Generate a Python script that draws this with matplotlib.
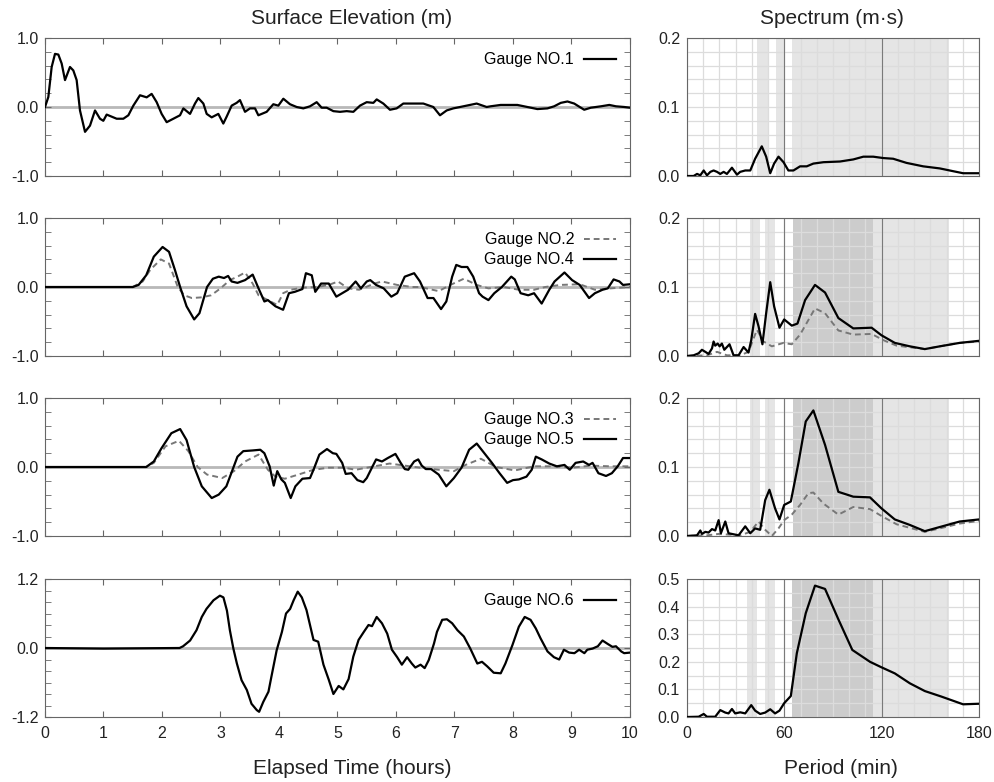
import numpy as np
import matplotlib
matplotlib.use('Agg')
import matplotlib.pyplot as plt
from matplotlib.ticker import MultipleLocator, FormatStrFormatter

plt.rcParams['font.family'] = ['Liberation Sans', 'DejaVu Sans']
plt.rcParams['axes.unicode_minus'] = False
plt.rcParams['lines.solid_joinstyle'] = 'round'
plt.rcParams['lines.dash_joinstyle'] = 'round'

#SURFACE ELEVATION (t in hours, eta in m)
g1_t = [0, 0.057, 0.114, 0.171, 0.228, 0.285, 0.342, 0.427, 0.484, 0.541, 0.598, 0.684, 0.769, 0.855,
        0.94, 0.997, 1.054, 1.14, 1.225, 1.339, 1.425, 1.51, 1.624, 1.738, 1.823, 1.909, 1.994, 2.08,
        2.194, 2.308, 2.365, 2.479, 2.564, 2.621, 2.707, 2.764, 2.849, 2.963, 3.048, 3.105, 3.191, 3.276,
        3.333, 3.419, 3.504, 3.59, 3.647, 3.789, 3.903, 3.989, 4.074, 4.188, 4.302, 4.416, 4.53, 4.644,
        4.729, 4.815, 4.929, 5.043, 5.157, 5.271, 5.385, 5.499, 5.613, 5.67, 5.783, 5.897, 6.011, 6.125,
        6.296, 6.467, 6.638, 6.752, 6.866, 6.98, 7.208, 7.379, 7.55, 7.617, 7.789, 8.074, 8.246, 8.417,
        8.589, 8.703, 8.817, 8.931, 9.046, 9.217, 9.331, 9.503, 9.646, 9.76, 9.903, 10.0]
g1_eta = [0, 0.145, 0.58, 0.77, 0.76, 0.63, 0.39, 0.58, 0.53, 0.39, -0.05, -0.36, -0.27, -0.05,
          -0.17, -0.2, -0.11, -0.14, -0.17, -0.17, -0.12, 0.02, 0.17, 0.14, 0.19, 0.07, -0.1, -0.22,
          -0.17, -0.12, -0.02, -0.1, 0.05, 0.13, 0.05, -0.1, -0.15, -0.1, -0.24, -0.14, 0.02, 0.06,
          0.1, -0.07, -0.02, -0.02, -0.12, -0.07, 0.04, 0.02, 0.12, 0.04, 0, -0.02, 0.01, 0.07,
          -0.01, -0.01, -0.06, -0.07, -0.06, -0.07, 0.02, 0.07, 0.06, 0.11, 0.05, -0.04, -0.02, 0.05,
          0.05, 0.05, 0, -0.12, -0.05, -0.02, 0.02, 0.05, 0, 0.01, 0.03, 0.03, 0, -0.03,
          -0.02, 0.01, 0.06, 0.08, 0.05, -0.04, -0.01, 0.01, 0.03, 0.01, 0, -0.01]

g2_t = [0, 1.5, 1.67, 1.8, 1.98, 2.12, 2.27, 2.38, 2.51, 2.68, 2.84, 3.0, 3.16, 3.29, 3.42, 3.55, 3.65,
        3.81, 3.97, 4.07, 4.2, 4.4, 4.66, 4.85, 5.01, 5.18, 5.37, 5.63, 5.76, 6.02, 6.28, 6.41, 6.73,
        6.93, 7.16, 7.38, 7.58, 7.84, 8.1, 8.36, 8.55, 8.81, 9.14, 9.4, 9.66, 10.0]
g2_eta = [0, 0, 0.08, 0.25, 0.4, 0.34, 0, -0.12, -0.16, -0.15, -0.12, -0.02, 0.1, 0.15, 0.21, 0.05, -0.12,
          -0.19, -0.26, -0.09, -0.04, -0.01, 0, 0.03, 0.08, -0.02, -0.04, 0.05, 0.08, 0.03, 0, 0, -0.06,
          0.03, 0.12, 0.03, -0.02, 0, -0.04, -0.04, 0, 0.03, 0.04, -0.04, -0.02, 0.0]

g4_t = [0, 1.5, 1.6, 1.73, 1.86, 2.01, 2.12, 2.22, 2.31, 2.42, 2.55, 2.64, 2.77, 2.87, 2.97, 3.06, 3.13,
        3.19, 3.29, 3.42, 3.55, 3.65, 3.75, 3.81, 3.94, 4.07, 4.17, 4.27, 4.4, 4.46, 4.56, 4.62, 4.72,
        4.85, 4.98, 5.08, 5.18, 5.31, 5.4, 5.5, 5.56, 5.66, 5.79, 5.92, 6.02, 6.15, 6.31, 6.41, 6.54,
        6.64, 6.77, 6.86, 6.96, 7.03, 7.12, 7.22, 7.32, 7.42, 7.48, 7.58, 7.68, 7.81, 7.97, 8.03, 8.13,
        8.26, 8.36, 8.49, 8.62, 8.71, 8.88, 9.01, 9.14, 9.3, 9.4, 9.53, 9.62, 9.72, 9.82, 9.88, 10.0]
g4_eta = [0, 0, 0.03, 0.17, 0.44, 0.58, 0.51, 0.25, 0, -0.28, -0.47, -0.38, 0, 0.12, 0.15, 0.13, 0.16,
          0.08, 0.06, 0.1, 0.18, -0.02, -0.21, -0.19, -0.28, -0.33, -0.09, -0.07, -0.03, 0.2, 0.17, -0.07, 0.05,
          0.05, -0.14, -0.09, -0.04, 0.08, -0.02, 0.08, 0.1, 0.03, -0.02, -0.14, -0.09, 0.15, 0.2, 0.08, -0.16,
          -0.16, -0.32, -0.21, 0.15, 0.32, 0.29, 0.29, 0.15, -0.09, -0.14, -0.19, -0.09, 0, 0.15, 0.11, -0.09,
          -0.12, -0.09, -0.24, -0.04, 0.08, 0.21, 0.1, 0.03, -0.16, -0.09, -0.04, -0.02, 0.11, 0.08, 0.03, 0.04]

g3_t = [0, 1.73, 1.86, 2.06, 2.29, 2.45, 2.61, 2.77, 3.03, 3.23, 3.42, 3.65, 3.81, 3.94, 4.1, 4.33,
        4.59, 4.85, 5.11, 5.31, 5.63, 5.89, 6.15, 6.41, 6.73, 6.99, 7.19, 7.45, 7.71, 8.03, 8.36, 8.68,
        9.01, 9.33, 9.66, 10.0]
g3_eta = [0, 0, 0.06, 0.3, 0.38, 0.23, 0, -0.11, -0.16, -0.06, 0.08, 0.18, -0.04, -0.14, -0.17, -0.11,
          -0.04, -0.01, -0.01, -0.04, 0.01, 0.05, 0.02, -0.01, -0.04, -0.06, 0.03, 0.12, 0, -0.05, 0.01, 0.01,
          -0.01, 0.02, 0.01, 0.01]

g5_t = [0, 1.73, 1.86, 1.99, 2.16, 2.31, 2.42, 2.55, 2.68, 2.85, 2.97, 3.1, 3.29, 3.39, 3.55, 3.68, 3.75,
        3.84, 3.91, 3.97, 4.04, 4.1, 4.2, 4.28, 4.4, 4.53, 4.59, 4.69, 4.82, 4.92, 4.98, 5.08, 5.14, 5.24,
        5.34, 5.44, 5.5, 5.6, 5.66, 5.76, 5.86, 5.99, 6.08, 6.15, 6.21, 6.31, 6.38, 6.44, 6.51, 6.6, 6.73,
        6.86, 6.99, 7.12, 7.25, 7.38, 7.51, 7.64, 7.77, 7.9, 8.0, 8.1, 8.23, 8.32, 8.39, 8.49, 8.62, 8.75,
        8.88, 8.97, 9.07, 9.2, 9.3, 9.36, 9.46, 9.59, 9.69, 9.79, 9.88, 10.0]
g5_eta = [0, 0, 0.08, 0.27, 0.49, 0.55, 0.39, 0, -0.28, -0.45, -0.4, -0.28, 0.15, 0.23, 0.24, 0.25, 0.2,
          0.01, -0.27, -0.06, -0.18, -0.23, -0.45, -0.28, -0.17, -0.16, -0.04, 0.18, 0.26, 0.2, 0.19, 0.06, -0.1, -0.09,
          -0.19, -0.22, -0.16, 0.01, 0.11, 0.08, 0.13, 0.19, 0.06, -0.03, -0.04, 0.08, 0.11, 0.02, -0.03, -0.03, -0.11,
          -0.28, -0.16, -0.01, 0.25, 0.34, 0.2, 0.06, -0.09, -0.23, -0.19, -0.18, -0.14, -0.04, 0.15, 0.11, 0.05, 0.01,
          0.03, -0.04, 0.06, 0.08, 0.03, 0.06, -0.09, -0.13, -0.09, 0.01, 0.13, 0.13]

g6_t = [0, 1.0, 2.3, 2.36, 2.48, 2.59, 2.68, 2.76, 2.88, 2.99, 3.05, 3.11, 3.16, 3.22, 3.28, 3.36, 3.45,
        3.53, 3.62, 3.66, 3.73, 3.82, 3.87, 3.96, 4.05, 4.12, 4.19, 4.25, 4.32, 4.39, 4.47, 4.59, 4.67,
        4.76, 4.85, 4.93, 5.02, 5.1, 5.19, 5.27, 5.36, 5.45, 5.53, 5.59, 5.67, 5.76, 5.85, 5.93, 6.02,
        6.1, 6.19, 6.27, 6.33, 6.42, 6.49, 6.56, 6.65, 6.7, 6.79, 6.87, 6.96, 7.05, 7.16, 7.27, 7.39,
        7.47, 7.56, 7.67, 7.79, 7.87, 7.99, 8.1, 8.2, 8.3, 8.39, 8.47, 8.59, 8.7, 8.79, 8.87, 8.96,
        9.05, 9.13, 9.22, 9.27, 9.36, 9.45, 9.53, 9.62, 9.7, 9.76, 9.85, 9.9, 10.0]
g6_eta = [0, -0.01, 0, 0.03, 0.13, 0.31, 0.54, 0.68, 0.83, 0.91, 0.88, 0.65, 0.31, -0.01, -0.27, -0.56, -0.73,
          -0.97, -1.08, -1.11, -0.94, -0.76, -0.5, -0.04, 0.28, 0.6, 0.68, 0.83, 0.98, 0.88, 0.66, 0.14, 0.11,
          -0.29, -0.55, -0.8, -0.66, -0.72, -0.54, -0.15, 0.14, 0.28, 0.4, 0.38, 0.54, 0.43, 0.25, -0.03, -0.16,
          -0.29, -0.16, -0.27, -0.34, -0.29, -0.35, -0.21, 0.08, 0.28, 0.49, 0.5, 0.43, 0.31, 0.2, -0.01, -0.27,
          -0.24, -0.32, -0.43, -0.44, -0.27, 0.05, 0.37, 0.54, 0.49, 0.34, 0.17, -0.06, -0.16, -0.2, -0.03, -0.08,
          -0.09, -0.03, -0.09, -0.03, -0.01, 0.03, 0.13, 0.07, 0.02, 0.03, -0.06, -0.09, -0.08]

#SPECTRA (period in min, spectrum in m*s)
s1_p = [0, 4.1, 6.2, 8.2, 10.3, 12.3, 14.4, 16.4, 18.5, 20.5, 22.6, 24.6, 27.7, 30.8, 32.8, 35.9, 39.0,
        42.0, 46.1, 48.8, 51.3, 53.7, 56.4, 59.5, 62.5, 65.6, 69.7, 73.8, 77.9, 84.1, 94.3, 102.5, 108.7,
        114.8, 121, 127.1, 135.3, 145.6, 155.8, 164, 170.2, 180]
s1_v = [0, 0, 0.003, 0.001, 0.008, 0.001, 0.006, 0.008, 0.006, 0.003, 0.006, 0.003, 0.012, 0.002, 0.006, 0.008, 0.008,
        0.025, 0.043, 0.028, 0.004, 0.018, 0.028, 0.02, 0.008, 0.008, 0.014, 0.014, 0.018, 0.02, 0.021, 0.024, 0.028,
        0.028, 0.026, 0.025, 0.019, 0.014, 0.011, 0.007, 0.004, 0.004]

s2_p = [0, 12.3, 18.5, 24.6, 32.8, 37.9, 43.1, 47.2, 52.3, 59.5, 64.6, 69.7, 74.8, 78.9, 85.1, 93.3,
        102.5, 113.8, 121, 129.2, 146.6, 155.8, 168.1, 180]
s2_v = [0, 0.001, 0.006, 0.001, 0.001, 0.006, 0.038, 0.021, 0.014, 0.019, 0.017, 0.031, 0.052, 0.069, 0.062, 0.037,
        0.031, 0.032, 0.023, 0.015, 0.01, 0.014, 0.019, 0.021]

s4_p = [0, 4.1, 7.2, 9.2, 11.3, 13.3, 15.4, 16.4, 17.4, 18.9, 20.1, 21.5, 23, 26.2, 28.7, 31.8, 34.9,
        37.9, 39.6, 42, 44.1, 46.5, 48.8, 51.3, 53.7, 57, 59.9, 64.6, 68.1, 72.8, 78.9, 85.1, 93.3,
        102.5, 113.8, 119.9, 128.1, 137.4, 146.6, 155.8, 168.1, 180]
s4_v = [0, 0.001, 0.004, 0.009, 0.006, 0.003, 0.011, 0.021, 0.015, 0.018, 0.014, 0.018, 0.009, 0.017, 0.001, 0.001, 0.013,
        0.005, 0.023, 0.061, 0.043, 0.017, 0.062, 0.107, 0.072, 0.041, 0.053, 0.044, 0.047, 0.081, 0.103, 0.092, 0.055,
        0.04, 0.041, 0.03, 0.019, 0.014, 0.01, 0.014, 0.019, 0.022]

s3_p = [0, 12.3, 19.5, 32.8, 39, 44.1, 48.2, 52.3, 56.4, 59.9, 64.6, 69.7, 74.8, 77.9, 84.1, 93.3,
        102.5, 112.8, 119.9, 129.2, 146.6, 155.8, 168.1, 180]
s3_v = [0, 0.001, 0.003, 0.001, 0.006, 0.021, 0.009, 0.0, 0.011, 0.023, 0.031, 0.045, 0.062, 0.063, 0.047, 0.031,
        0.042, 0.039, 0.029, 0.017, 0.006, 0.011, 0.018, 0.022]

s5_p = [0, 6.2, 8.2, 9.2, 11.3, 13.3, 15.4, 17.4, 19.5, 20.9, 23.6, 25.6, 31.8, 35.9, 39, 42, 45.1,
        48.2, 50.8, 54.3, 57, 59.9, 64, 68.7, 73.2, 77.9, 85.1, 93.3, 102.5, 112.8, 119.9, 128.1, 137.4,
        146.6, 155.8, 168.1, 180]
s5_v = [0, 0.001, 0.008, 0.003, 0.006, 0.005, 0.01, 0.008, 0.023, 0.004, 0.021, 0.004, 0.001, 0.014, 0.004, 0.011, 0.009,
        0.052, 0.067, 0.04, 0.024, 0.045, 0.05, 0.106, 0.166, 0.182, 0.132, 0.064, 0.057, 0.056, 0.04, 0.024, 0.016,
        0.007, 0.013, 0.021, 0.024]

s6_p = [0, 7.2, 10.3, 12.3, 17.4, 20.5, 23.6, 25.6, 27.7, 29.7, 32.8, 35.9, 39.6, 42, 45.1, 48.2, 51.3,
        54.3, 57, 59.9, 64, 67.7, 73.2, 78.9, 85.1, 93.3, 101.9, 112.8, 119.9, 128.1, 137.4, 146.6, 156.8,
        170.2, 180]
s6_v = [0, 0.001, 0.011, 0.001, 0.001, 0.025, 0.016, 0.013, 0.029, 0.013, 0.017, 0.013, 0.043, 0.023, 0.011, 0.016, 0.028,
        0.013, 0.023, 0.05, 0.076, 0.231, 0.376, 0.476, 0.464, 0.354, 0.243, 0.2, 0.18, 0.158, 0.122, 0.094, 0.074,
        0.046, 0.048]

#SHADED PERIOD BANDS (lo, hi, colour)
LIGHT = '#e5e5e5'
DARK = '#cccccc'
bands_1 = [(43.0, 50.2, LIGHT), (54.9, 60.0, LIGHT), (64.6, 161.5, LIGHT)]
bands_2 = [(39.0, 45.0, LIGHT), (48.2, 54.3, LIGHT), (65.2, 114.4, DARK), (114.4, 161.5, LIGHT)]
bands_3 = [(39.0, 45.0, LIGHT), (48.2, 54.3, LIGHT), (65.2, 114.4, DARK), (114.4, 161.5, LIGHT)]
bands_4 = [(36.9, 43.0, LIGHT), (48.2, 54.3, LIGHT), (64.6, 114.4, DARK), (114.4, 161.5, LIGHT)]

time_ticks = list(range(0, 11))
period_ticks = [0, 60, 120, 180]

SPINE = '#666666'
DASH = (0, (3, 2))


def left_panel(ax, ylim, bottom):
    ax.set_xlim(0, 10)
    ax.set_ylim(-ylim, ylim)
    ax.axhline(0, color='#b8b8b8', lw=2, zorder=1)
    ax.set_xticks(time_ticks)
    ax.set_yticks([-ylim, 0, ylim])
    ax.yaxis.set_minor_locator(MultipleLocator(0.2))
    ax.yaxis.set_major_formatter(FormatStrFormatter('%.1f'))
    ax.tick_params(which='both', direction='in', top=True, right=True, length=4,
                   color=SPINE, labelsize=11.5, labelcolor='#222222')
    ax.tick_params(axis='y', pad=4.5)
    ax.tick_params(axis='x', pad=6.5, labelbottom=bottom)
    for s in ax.spines.values():
        s.set_color(SPINE)
    ax.legend(loc='upper right', frameon=False, markerfirst=False, handlelength=2.0,
              fontsize=11.5, labelspacing=0.3, handletextpad=0.6)


def right_panel(ax, ymax, ystep, yticks, bands, bottom):
    ax.set_xlim(0, 180)
    ax.set_ylim(0, ymax)
    for lo, hi, c in bands:
        ax.axvspan(lo, hi, color=c, lw=0, zorder=0.2)
    ax.set_axisbelow(True)
    ax.set_xticks(period_ticks)
    ax.xaxis.set_minor_locator(MultipleLocator(10))
    ax.set_yticks(yticks)
    ax.yaxis.set_minor_locator(MultipleLocator(ystep))
    ax.yaxis.set_major_formatter(FormatStrFormatter('%.1f'))
    ax.grid(which='both', color='#dcdcdc', lw=0.9)
    ax.axvline(60, color='#7a7a7a', lw=0.8, zorder=0.6)
    ax.axvline(120, color='#7a7a7a', lw=0.8, zorder=0.6)
    ax.tick_params(which='both', length=0, labelsize=11.5, labelcolor='#222222')
    ax.tick_params(axis='y', pad=5)
    ax.tick_params(axis='x', pad=6.5, labelbottom=bottom)
    for s in ax.spines.values():
        s.set_color(SPINE)


fig = plt.figure(figsize=(9.95, 7.82), dpi=100)

W, H = 995.0, 782.0
rows = [(38, 176), (218, 356), (398, 536), (579, 717)]
axL, axR = [], []
for top, bot in rows:
    axL.append(fig.add_axes([45 / W, 1 - bot / H, 585 / W, (bot - top) / H]))
    axR.append(fig.add_axes([687 / W, 1 - bot / H, 292 / W, (bot - top) / H]))

#LEFT - SURFACE ELEVATION
axL[0].plot(g1_t, g1_eta, color='black', lw=1.6, label='Gauge NO.1', zorder=3)
left_panel(axL[0], 1.0, False)

axL[1].plot(g2_t, g2_eta, color='#777777', lw=1.4, ls=DASH, label='Gauge NO.2', zorder=2)
axL[1].plot(g4_t, g4_eta, color='black', lw=1.6, label='Gauge NO.4', zorder=3)
left_panel(axL[1], 1.0, False)

axL[2].plot(g3_t, g3_eta, color='#777777', lw=1.4, ls=DASH, label='Gauge NO.3', zorder=2)
axL[2].plot(g5_t, g5_eta, color='black', lw=1.6, label='Gauge NO.5', zorder=3)
left_panel(axL[2], 1.0, False)

axL[3].plot(g6_t, g6_eta, color='black', lw=1.6, label='Gauge NO.6', zorder=3)
left_panel(axL[3], 1.2, True)
###

#RIGHT - SPECTRA
axR[0].plot(s1_p, s1_v, color='black', lw=1.6, zorder=3)
right_panel(axR[0], 0.2, 0.02, [0.0, 0.1, 0.2], bands_1, False)

axR[1].plot(s2_p, s2_v, color='#777777', lw=1.4, ls=DASH, zorder=2)
axR[1].plot(s4_p, s4_v, color='black', lw=1.6, zorder=3)
right_panel(axR[1], 0.2, 0.02, [0.0, 0.1, 0.2], bands_2, False)

axR[2].plot(s3_p, s3_v, color='#777777', lw=1.4, ls=DASH, zorder=2)
axR[2].plot(s5_p, s5_v, color='black', lw=1.6, zorder=3)
right_panel(axR[2], 0.2, 0.02, [0.0, 0.1, 0.2], bands_3, False)

axR[3].plot(s6_p, s6_v, color='black', lw=1.6, zorder=3)
right_panel(axR[3], 0.5, 0.05, [0.0, 0.1, 0.2, 0.3, 0.4, 0.5], bands_4, True)
###

fig.text(352 / W, 1 - 19 / H, 'Surface Elevation (m)', ha='center', va='center', fontsize=15, color='#222222')
fig.text(832 / W, 1 - 19 / H, 'Spectrum (m\u00b7s)', ha='center', va='center', fontsize=15, color='#222222')
fig.text(352 / W, 1 - 768 / H, 'Elapsed Time (hours)', ha='center', va='center', fontsize=15, color='#222222')
fig.text(841 / W, 1 - 768 / H, 'Period (min)', ha='center', va='center', fontsize=15, color='#222222')

fig.savefig('out.png', dpi=100)
